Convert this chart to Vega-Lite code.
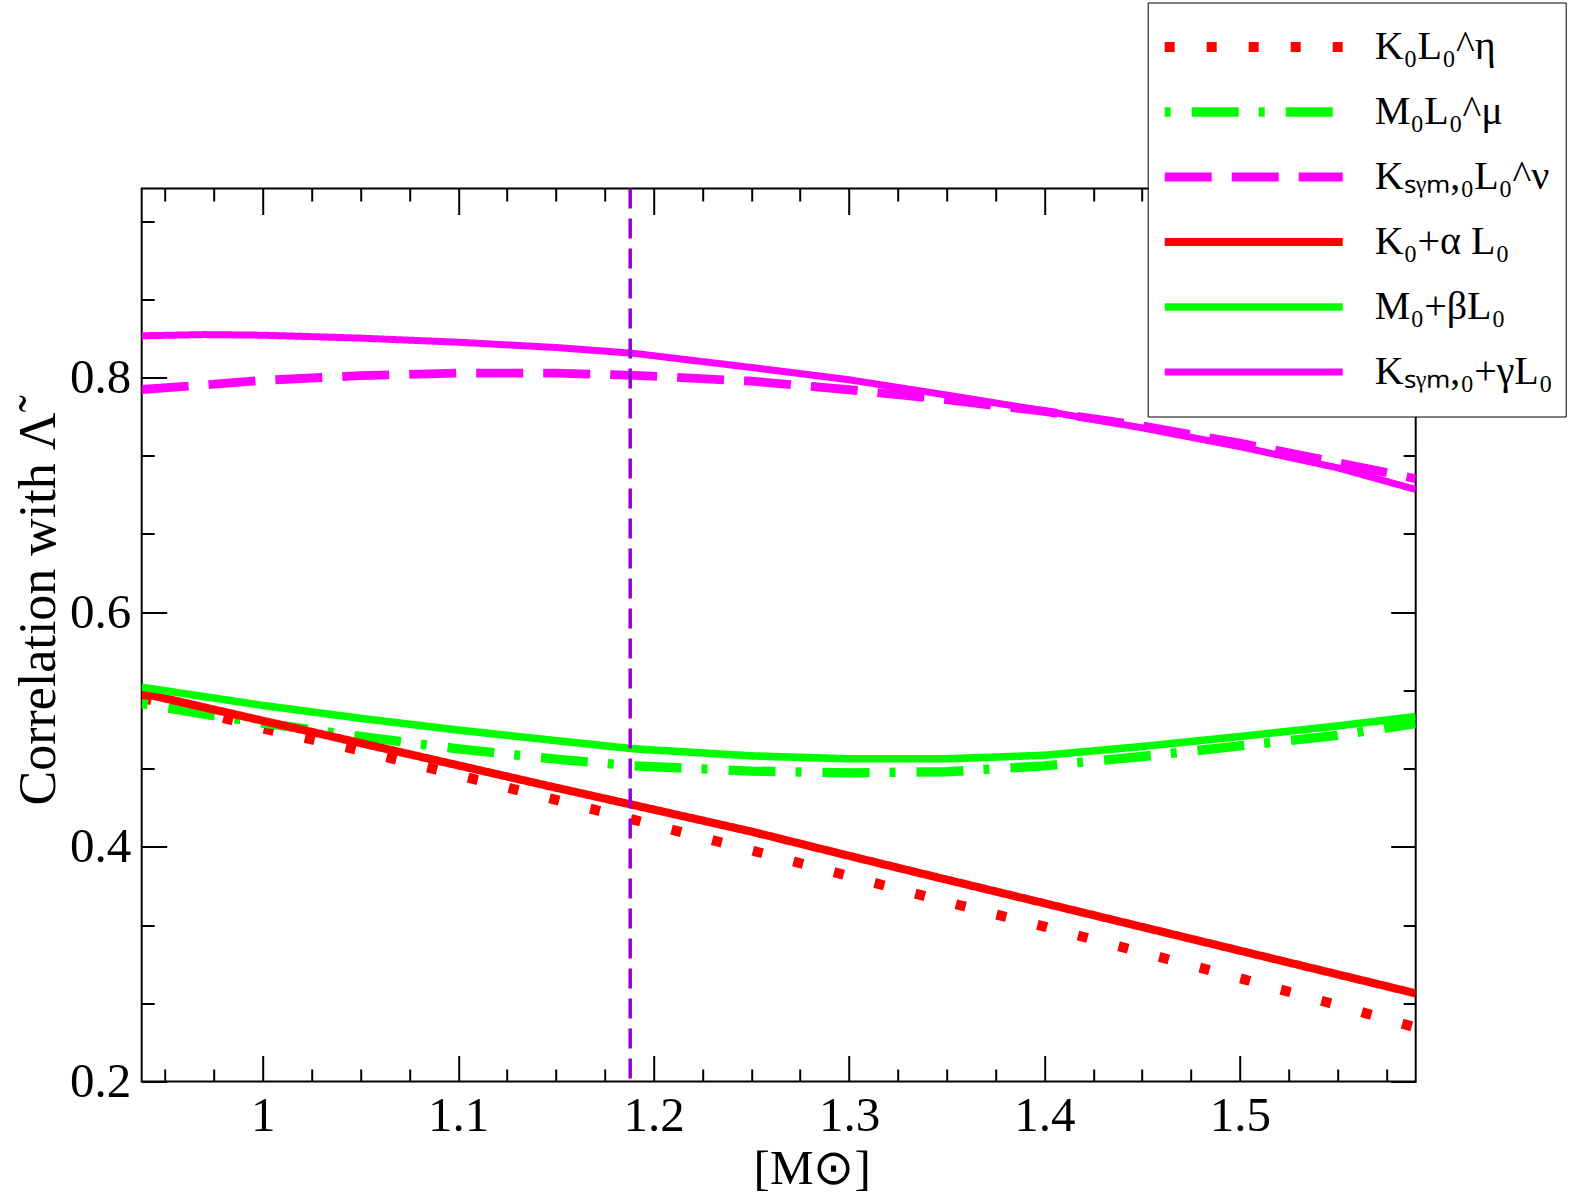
{
  "$schema": "https://vega.github.io/schema/vega-lite/v6.json",
  "width": 1274,
  "height": 893,
  "autosize": {"type": "none"},
  "padding": {"left": 141.7, "top": 188.5, "right": 157.3, "bottom": 118.5},
  "background": "white",
  "config": {
    "view": {"stroke": "black", "strokeWidth": 2},
    "font": "Liberation Serif",
    "axis": {
      "grid": false,
      "domain": false,
      "tickColor": "black",
      "tickWidth": 2,
      "labelFont": "Liberation Serif",
      "labelColor": "black",
      "labelFontSize": 49,
      "titleFont": "Liberation Serif",
      "titleFontWeight": "normal",
      "titleColor": "black",
      "titleFontSize": 49
    },
    "legend": {
      "symbolSize": 31684,
      "symbolType": "stroke",
      "labelFont": "Liberation Serif",
      "labelFontSize": 40,
      "labelColor": "black",
      "labelLimit": 400,
      "labelOffset": 27,
      "clipHeight": 65,
      "rowPadding": 0,
      "padding": 12,
      "strokeColor": "black",
      "fillColor": "white"
    }
  },
  "datasets": {
    "curves": [
      {"series": "K₀L₀^η", "mc": 0.938, "r": 0.527},
      {"series": "K₀L₀^η", "mc": 0.97, "r": 0.514},
      {"series": "K₀L₀^η", "mc": 1.0, "r": 0.501},
      {"series": "K₀L₀^η", "mc": 1.05, "r": 0.482},
      {"series": "K₀L₀^η", "mc": 1.1, "r": 0.461},
      {"series": "K₀L₀^η", "mc": 1.15, "r": 0.44},
      {"series": "K₀L₀^η", "mc": 1.19, "r": 0.423},
      {"series": "K₀L₀^η", "mc": 1.25, "r": 0.397},
      {"series": "K₀L₀^η", "mc": 1.3, "r": 0.375},
      {"series": "K₀L₀^η", "mc": 1.35, "r": 0.353},
      {"series": "K₀L₀^η", "mc": 1.4, "r": 0.332},
      {"series": "K₀L₀^η", "mc": 1.45, "r": 0.31},
      {"series": "K₀L₀^η", "mc": 1.5, "r": 0.288},
      {"series": "K₀L₀^η", "mc": 1.55, "r": 0.265},
      {"series": "K₀L₀^η", "mc": 1.59, "r": 0.246},

      {"series": "M₀L₀^μ", "mc": 0.938, "r": 0.522},
      {"series": "M₀L₀^μ", "mc": 0.97, "r": 0.513},
      {"series": "M₀L₀^μ", "mc": 1.0, "r": 0.5055},
      {"series": "M₀L₀^μ", "mc": 1.05, "r": 0.494},
      {"series": "M₀L₀^μ", "mc": 1.1, "r": 0.4835},
      {"series": "M₀L₀^μ", "mc": 1.15, "r": 0.4747},
      {"series": "M₀L₀^μ", "mc": 1.19, "r": 0.469},
      {"series": "M₀L₀^μ", "mc": 1.25, "r": 0.4645},
      {"series": "M₀L₀^μ", "mc": 1.3, "r": 0.463},
      {"series": "M₀L₀^μ", "mc": 1.35, "r": 0.464},
      {"series": "M₀L₀^μ", "mc": 1.4, "r": 0.469},
      {"series": "M₀L₀^μ", "mc": 1.45, "r": 0.477},
      {"series": "M₀L₀^μ", "mc": 1.5, "r": 0.486},
      {"series": "M₀L₀^μ", "mc": 1.55, "r": 0.495},
      {"series": "M₀L₀^μ", "mc": 1.59, "r": 0.505},

      {"series": "Kₛᵧₘ,₀L₀^ν", "mc": 0.938, "r": 0.7897},
      {"series": "Kₛᵧₘ,₀L₀^ν", "mc": 0.97, "r": 0.7935},
      {"series": "Kₛᵧₘ,₀L₀^ν", "mc": 1.0, "r": 0.7975},
      {"series": "Kₛᵧₘ,₀L₀^ν", "mc": 1.05, "r": 0.8015},
      {"series": "Kₛᵧₘ,₀L₀^ν", "mc": 1.1, "r": 0.8037},
      {"series": "Kₛᵧₘ,₀L₀^ν", "mc": 1.15, "r": 0.8037},
      {"series": "Kₛᵧₘ,₀L₀^ν", "mc": 1.19, "r": 0.8018},
      {"series": "Kₛᵧₘ,₀L₀^ν", "mc": 1.25, "r": 0.7968},
      {"series": "Kₛᵧₘ,₀L₀^ν", "mc": 1.3, "r": 0.7895},
      {"series": "Kₛᵧₘ,₀L₀^ν", "mc": 1.35, "r": 0.781},
      {"series": "Kₛᵧₘ,₀L₀^ν", "mc": 1.4, "r": 0.771},
      {"series": "Kₛᵧₘ,₀L₀^ν", "mc": 1.45, "r": 0.7588},
      {"series": "Kₛᵧₘ,₀L₀^ν", "mc": 1.5, "r": 0.744},
      {"series": "Kₛᵧₘ,₀L₀^ν", "mc": 1.55, "r": 0.7275},
      {"series": "Kₛᵧₘ,₀L₀^ν", "mc": 1.59, "r": 0.7138},

      {"series": "K₀+α L₀", "mc": 0.938, "r": 0.531},
      {"series": "K₀+α L₀", "mc": 1.0, "r": 0.5074},
      {"series": "K₀+α L₀", "mc": 1.05, "r": 0.4884},
      {"series": "K₀+α L₀", "mc": 1.1, "r": 0.4694},
      {"series": "K₀+α L₀", "mc": 1.15, "r": 0.4504},
      {"series": "K₀+α L₀", "mc": 1.19, "r": 0.4355},
      {"series": "K₀+α L₀", "mc": 1.25, "r": 0.413},
      {"series": "K₀+α L₀", "mc": 1.3, "r": 0.3923},
      {"series": "K₀+α L₀", "mc": 1.35, "r": 0.372},
      {"series": "K₀+α L₀", "mc": 1.4, "r": 0.3519},
      {"series": "K₀+α L₀", "mc": 1.45, "r": 0.3317},
      {"series": "K₀+α L₀", "mc": 1.5, "r": 0.3115},
      {"series": "K₀+α L₀", "mc": 1.55, "r": 0.2913},
      {"series": "K₀+α L₀", "mc": 1.59, "r": 0.2751},

      {"series": "M₀+βL₀", "mc": 0.938, "r": 0.536},
      {"series": "M₀+βL₀", "mc": 0.97, "r": 0.528},
      {"series": "M₀+βL₀", "mc": 1.0, "r": 0.5205},
      {"series": "M₀+βL₀", "mc": 1.05, "r": 0.5095},
      {"series": "M₀+βL₀", "mc": 1.1, "r": 0.4995},
      {"series": "M₀+βL₀", "mc": 1.15, "r": 0.4905},
      {"series": "M₀+βL₀", "mc": 1.19, "r": 0.4835},
      {"series": "M₀+βL₀", "mc": 1.25, "r": 0.4775},
      {"series": "M₀+βL₀", "mc": 1.3, "r": 0.475},
      {"series": "M₀+βL₀", "mc": 1.35, "r": 0.475},
      {"series": "M₀+βL₀", "mc": 1.4, "r": 0.478},
      {"series": "M₀+βL₀", "mc": 1.45, "r": 0.4855},
      {"series": "M₀+βL₀", "mc": 1.5, "r": 0.494},
      {"series": "M₀+βL₀", "mc": 1.55, "r": 0.503},
      {"series": "M₀+βL₀", "mc": 1.59, "r": 0.511},

      {"series": "Kₛᵧₘ,₀+γL₀", "mc": 0.938, "r": 0.8355},
      {"series": "Kₛᵧₘ,₀+γL₀", "mc": 0.97, "r": 0.8365},
      {"series": "Kₛᵧₘ,₀+γL₀", "mc": 1.0, "r": 0.836},
      {"series": "Kₛᵧₘ,₀+γL₀", "mc": 1.05, "r": 0.8335},
      {"series": "Kₛᵧₘ,₀+γL₀", "mc": 1.1, "r": 0.83},
      {"series": "Kₛᵧₘ,₀+γL₀", "mc": 1.15, "r": 0.8255},
      {"series": "Kₛᵧₘ,₀+γL₀", "mc": 1.19, "r": 0.8205},
      {"series": "Kₛᵧₘ,₀+γL₀", "mc": 1.25, "r": 0.8085},
      {"series": "Kₛᵧₘ,₀+γL₀", "mc": 1.3, "r": 0.798},
      {"series": "Kₛᵧₘ,₀+γL₀", "mc": 1.35, "r": 0.785},
      {"series": "Kₛᵧₘ,₀+γL₀", "mc": 1.4, "r": 0.7715},
      {"series": "Kₛᵧₘ,₀+γL₀", "mc": 1.45, "r": 0.757},
      {"series": "Kₛᵧₘ,₀+γL₀", "mc": 1.5, "r": 0.741},
      {"series": "Kₛᵧₘ,₀+γL₀", "mc": 1.55, "r": 0.723},
      {"series": "Kₛᵧₘ,₀+γL₀", "mc": 1.59, "r": 0.7045}
    ],
    "marker": [{"mc": 1.188}]
  },
  "layer": [
    {
      "data": {"name": "curves"},
      "mark": {"type": "line", "strokeCap": "butt", "clip": true},
      "encoding": {
        "x": {
          "field": "mc", "type": "quantitative",
          "scale": {"domain": [0.938, 1.59], "nice": false, "zero": false},
          "axis": {"orient": "bottom", "values": [1, 1.1, 1.2, 1.3, 1.4, 1.5], "format": "~g", "tickSize": -26, "labelPadding": 36,
                   "title": "[M⊙]", "titleX": 670, "titleY": 102, "titleBaseline": "alphabetic", "titleAnchor": "middle"}
        },
        "y": {
          "field": "r", "type": "quantitative",
          "scale": {"domain": [0.2, 0.961], "nice": false, "zero": false},
          "axis": {"orient": "left", "values": [0.2, 0.4, 0.6, 0.8], "format": ".1f", "tickSize": -25, "labelPadding": 36,
                   "title": "Correlation with Λ̃", "titleX": -87, "titleY": 420, "titleBaseline": "alphabetic", "titleAnchor": "middle", "titleAngle": -90, "titleFontSize": 52}
        },
        "color": {
          "field": "series", "type": "nominal",
          "scale": {"domain": ["K₀L₀^η", "M₀L₀^μ", "Kₛᵧₘ,₀L₀^ν", "K₀+α L₀", "M₀+βL₀", "Kₛᵧₘ,₀+γL₀"],
                    "range": ["#ff0000", "#00ff00", "#ff00ff", "#ff0000", "#00ff00", "#ff00ff"]},
          "legend": {"title": null, "orient": "none", "legendX": 1006, "legendY": -186}
        },
        "strokeDash": {
          "field": "series", "type": "nominal",
          "scale": {"domain": ["K₀L₀^η", "M₀L₀^μ", "Kₛᵧₘ,₀L₀^ν", "K₀+α L₀", "M₀+βL₀", "Kₛᵧₘ,₀+γL₀"],
                    "range": [[10, 32], [6, 21, 47, 20], [47, 20], [1, 0], [1, 0], [1, 0]]},
          "legend": {"title": null, "orient": "none", "legendX": 1006, "legendY": -186}
        },
        "strokeWidth": {
          "field": "series", "type": "nominal",
          "scale": {"domain": ["K₀L₀^η", "M₀L₀^μ", "Kₛᵧₘ,₀L₀^ν", "K₀+α L₀", "M₀+βL₀", "Kₛᵧₘ,₀+γL₀"],
                    "range": [10, 7, 7, 7, 7, 7]},
          "legend": {"title": null, "orient": "none", "legendX": 1006, "legendY": -186}
        }
      }
    },
    {
      "data": {"name": "curves"},
      "mark": {"type": "point", "opacity": 0},
      "encoding": {
        "x": {"field": "mc", "type": "quantitative",
              "axis": {"orient": "bottom", "values": [0.95, 0.975, 1.025, 1.05, 1.075, 1.125, 1.15, 1.175, 1.225, 1.25, 1.275, 1.325, 1.35, 1.375, 1.425, 1.45, 1.475, 1.525, 1.55, 1.575], "tickSize": -12.5, "labels": false, "title": null}},
        "y": {"field": "r", "type": "quantitative",
              "axis": {"orient": "left", "values": [0.2667, 0.3333, 0.4667, 0.5333, 0.6667, 0.7333, 0.8667, 0.9333], "tickSize": -12.5, "labels": false, "title": null}}
      }
    },
    {
      "data": {"name": "curves"},
      "mark": {"type": "point", "opacity": 0},
      "encoding": {
        "x": {"field": "mc", "type": "quantitative",
              "axis": {"orient": "top", "values": [1, 1.1, 1.2, 1.3, 1.4, 1.5], "tickSize": -26, "labels": false, "title": null}},
        "y": {"field": "r", "type": "quantitative",
              "axis": {"orient": "right", "values": [0.2, 0.4, 0.6, 0.8], "tickSize": -25, "labels": false, "title": null}}
      }
    },
    {
      "data": {"name": "curves"},
      "mark": {"type": "point", "opacity": 0},
      "encoding": {
        "x": {"field": "mc", "type": "quantitative",
              "axis": {"orient": "top", "values": [0.95, 0.975, 1.025, 1.05, 1.075, 1.125, 1.15, 1.175, 1.225, 1.25, 1.275, 1.325, 1.35, 1.375, 1.425, 1.45, 1.475, 1.525, 1.55, 1.575], "tickSize": -12.5, "labels": false, "title": null}},
        "y": {"field": "r", "type": "quantitative",
              "axis": {"orient": "right", "values": [0.2667, 0.3333, 0.4667, 0.5333, 0.6667, 0.7333, 0.8667, 0.9333], "tickSize": -12.5, "labels": false, "title": null}}
      }
    },
    {
      "data": {"name": "marker"},
      "mark": {"type": "rule", "color": "#9400d3", "strokeWidth": 3.5, "strokeDash": [20, 10]},
      "encoding": {
        "x": {"field": "mc", "type": "quantitative", "axis": null}
      }
    }
  ],
  "resolve": {"axis": {"x": "independent", "y": "independent"}}
}
